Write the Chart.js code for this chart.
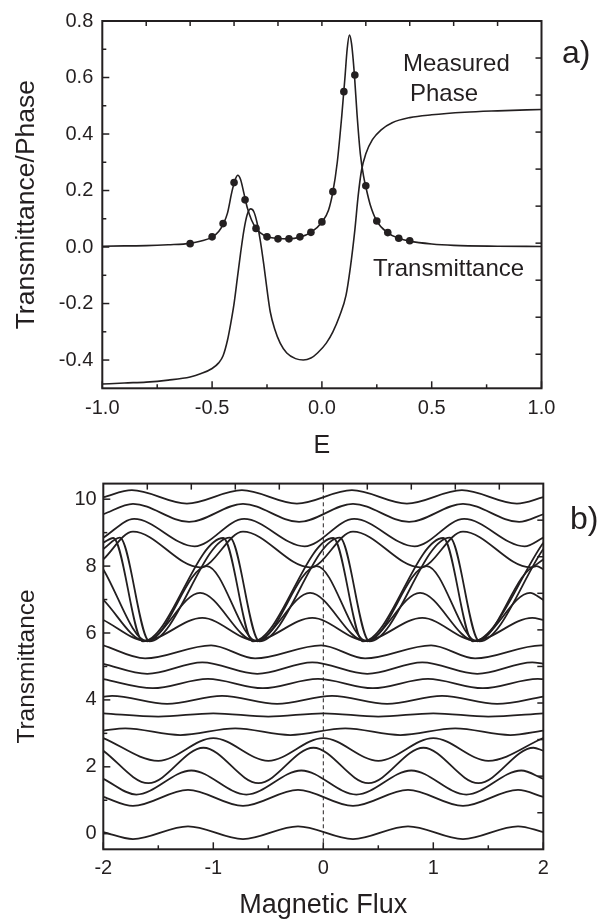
<!DOCTYPE html>
<html><head><meta charset="utf-8">
<script src="https://cdn.jsdelivr.net/npm/chart.js@4/dist/chart.umd.min.js"></script>
<style>
html,body{margin:0;padding:0;background:#fff;width:602px;height:924px;overflow:hidden;position:relative;}
canvas{position:absolute;left:0;}
#c1{top:0;}
#c2{top:465px;}
.lbl{position:absolute;font-family:"Liberation Sans",Arial,sans-serif;color:#231f20;white-space:nowrap;line-height:1;}
</style></head>
<body>
<canvas id="c1" width="602" height="465"></canvas>
<canvas id="c2" width="602" height="459"></canvas>
<div class="lbl" style="left:403px;top:51px;font-size:24px;">Measured</div>
<div class="lbl" style="left:410px;top:81px;font-size:24px;">Phase</div>
<div class="lbl" style="left:373px;top:256px;font-size:24px;">Transmittance</div>
<div class="lbl" style="left:562px;top:36px;font-size:32px;">a)</div>
<div class="lbl" style="left:570px;top:502px;font-size:32px;">b)</div>
<script>
// ---------- Panel a) data ----------
const transE = [-1.0,-0.9,-0.8,-0.7,-0.6,-0.55,-0.5,-0.47,-0.45,-0.43,-0.41,-0.395,-0.383,-0.37,-0.355,-0.34,-0.32,-0.30,-0.28,-0.25,-0.2,-0.15,-0.1,-0.05,0.0,0.03,0.05,0.07,0.09,0.105,0.115,0.125,0.135,0.148,0.16,0.175,0.19,0.2,0.22,0.25,0.3,0.35,0.4,0.5,0.6,0.8,1.0];
const transT = [0.003,0.004,0.005,0.008,0.013,0.021,0.035,0.055,0.08,0.12,0.195,0.238,0.254,0.238,0.19,0.14,0.095,0.067,0.05,0.037,0.03,0.029,0.035,0.052,0.088,0.13,0.195,0.3,0.46,0.6,0.7,0.75,0.72,0.61,0.47,0.33,0.25,0.213,0.15,0.092,0.05,0.031,0.021,0.011,0.006,0.003,0.002];
const phaseE = [-1.0,-0.9,-0.8,-0.7,-0.6,-0.55,-0.5,-0.47,-0.45,-0.43,-0.415,-0.40,-0.385,-0.37,-0.355,-0.34,-0.325,-0.31,-0.295,-0.28,-0.265,-0.25,-0.235,-0.215,-0.19,-0.16,-0.12,-0.085,-0.05,-0.02,0.02,0.05,0.08,0.11,0.13,0.15,0.165,0.18,0.2,0.23,0.27,0.32,0.4,0.5,0.65,0.8,1.0];
const phaseV = [-0.485,-0.481,-0.478,-0.471,-0.46,-0.448,-0.43,-0.41,-0.385,-0.33,-0.27,-0.2,-0.11,-0.02,0.06,0.115,0.135,0.125,0.085,0.02,-0.06,-0.15,-0.23,-0.29,-0.34,-0.375,-0.395,-0.4,-0.393,-0.375,-0.34,-0.3,-0.245,-0.17,-0.07,0.06,0.18,0.27,0.33,0.38,0.415,0.44,0.458,0.468,0.477,0.482,0.487];
const dotsE = [-0.6,-0.5,-0.45,-0.4,-0.35,-0.3,-0.25,-0.2,-0.15,-0.1,-0.05,0,0.05,0.1,0.15,0.2,0.25,0.3,0.35,0.4];
const dotsT = [0.012,0.036,0.083,0.228,0.167,0.066,0.036,0.029,0.029,0.036,0.052,0.089,0.196,0.55,0.609,0.217,0.092,0.051,0.031,0.022];
const aXLabels = [-1,-0.5,0,0.5,1];
const aXMinor = [-0.75,-0.25,0.25,0.75];
const aXTop = [-0.8,-0.6,-0.4,-0.2,0,0.2,0.4,0.6,0.8];
const aYLabels = [-0.4,-0.2,0,0.2,0.4,0.6,0.8];
const aYMinor = [-0.3,-0.1,0.1,0.3,0.5,0.7];
const aYRight = [1,2,3,4,5,6,7,8,9];

// ---------- Panel b) data (Magnetic Flux, Transmittance) ----------
const curve01 = [[-2,0.05],[-1.73,-0.16],[-1.23,0.22],[-0.73,-0.16],[-0.23,0.22],[0.27,-0.16],[0.77,0.22],[1.27,-0.16],[1.77,0.22],[2,0.05]];
const curve02 = [[-2,1.10],[-1.73,0.83],[-1.23,1.31],[-0.73,0.83],[-0.23,1.31],[0.27,0.83],[0.77,1.31],[1.27,0.83],[1.77,1.31],[2,1.10]];
const curve03 = [[-2,1.64],[-1.7,1.17],[-1.2,1.89],[-0.7,1.17],[-0.2,1.89],[0.3,1.17],[0.8,1.89],[1.3,1.17],[1.8,1.89],[2,1.64]];
const curve04 = [[-2,2.48],[-1.59,1.51],[-1.09,2.57],[-0.59,1.51],[-0.09,2.57],[0.41,1.51],[0.91,2.57],[1.41,1.51],[1.91,2.57],[2,2.48]];
const curve05 = [[-2,2.86],[-1.5,2.18],[-1,2.86],[-0.5,2.18],[0,2.86],[0.5,2.18],[1,2.86],[1.5,2.18],[2,2.86]];
const curve06 = [[-2,3.08],[-1.8,3.15],[-1.3,2.95],[-0.8,3.15],[-0.3,2.95],[0.2,3.15],[0.7,2.95],[1.2,3.15],[1.7,2.95],[2,3.08]];
const curve07 = [[-2,3.6],[-1.5,3.5],[-1,3.6],[-0.5,3.5],[0,3.6],[0.5,3.5],[1,3.6],[1.5,3.5],[2,3.6]];
const curve08 = [[-2,4.10],[-1.92,4.12],[-1.42,3.88],[-0.92,4.12],[-0.42,3.88],[0.08,4.12],[0.58,3.88],[1.08,4.12],[1.58,3.88],[2,4.10]];
const curve09 = [[-2,4.62],[-1.55,4.35],[-1.05,4.63],[-0.55,4.35],[-0.05,4.63],[0.45,4.35],[0.95,4.63],[1.45,4.35],[1.95,4.63],[2,4.62]];
const curve10 = [[-2,5.08],[-1.6,4.78],[-1.1,5.12],[-0.6,4.78],[-0.1,5.12],[0.4,4.78],[0.9,5.12],[1.4,4.78],[1.9,5.12],[2,5.08]];
const curve11 = [[-2,5.63],[-1.62,5.24],[-1.02,5.63],[-0.62,5.24],[-0.02,5.63],[0.38,5.24],[0.98,5.63],[1.38,5.24],[1.98,5.63],[2,5.63]];
const curve12 = [[-2,6.39],[-1.62,5.78],[-1.1,6.45],[-0.62,5.78],[-0.1,6.45],[0.38,5.78],[0.9,6.45],[1.38,5.78],[1.9,6.45],[2,6.39]];
const curve13 = [[-2,6.99],[-1.62,5.76],[-1.12,7.2],[-0.62,5.76],[-0.12,7.2],[0.38,5.76],[0.88,7.2],[1.38,5.76],[1.88,7.2],[2,6.99]];
const curve14 = [[-2,7.9],[-1.6,5.75],[-1.06,8.0],[-0.6,5.75],[-0.06,8.0],[0.4,5.75],[0.94,8.0],[1.4,5.75],[1.94,8.0],[2,7.9]];
const curve15 = [[-2,8.70],[-1.91,8.84],[-1.64,5.75],[-0.91,8.84],[-0.64,5.75],[0.09,8.84],[0.36,5.75],[1.09,8.84],[1.36,5.75],[2,8.70]];
const curve16 = [[-2,8.51],[-1.85,8.85],[-1.58,5.75],[-0.85,8.85],[-0.58,5.75],[0.15,8.85],[0.42,5.75],[1.15,8.85],[1.42,5.75],[2,8.51]];
const curve17 = [[-2,8.2],[-1.73,9.03],[-1.12,7.96],[-0.73,9.03],[-0.12,7.96],[0.27,9.03],[0.88,7.96],[1.27,9.03],[1.88,7.96],[2,8.2]];
const curve18 = [[-2,8.85],[-1.72,9.41],[-1.17,8.59],[-0.72,9.41],[-0.17,8.59],[0.28,9.41],[0.83,8.59],[1.28,9.41],[1.83,8.59],[2,8.85]];
const curve19 = [[-2,9.55],[-1.73,9.86],[-1.22,9.32],[-0.73,9.86],[-0.22,9.32],[0.27,9.86],[0.78,9.32],[1.27,9.86],[1.78,9.32],[2,9.55]];
const curve20 = [[-2,10.06],[-1.74,10.27],[-1.24,9.87],[-0.74,10.27],[-0.24,9.87],[0.26,10.27],[0.76,9.87],[1.26,10.27],[1.76,9.87],[2,10.06]];
const fluxZeroLine = [[0,-0.466],[0,10.466]];
const bXLabels = [-2,-1,0,1,2];
const bXMinor = [-1.5,-0.5,0.5,1.5];
const bXTop = [-1.6,-1.2,-0.8,-0.4,0,0.4,0.8,1.2,1.6];
const bYLabels = [0,2,4,6,8,10];
const bYMinor = [1,3,5,7,9];
const bYRight = [1,2,3,4,5,6,7,8,9];

// ---------- rendering ----------
const INK = '#231f20';
const FONT = '"Liberation Sans", Arial, sans-serif';

function frameTicks(cfg){
  return {id:'frameTicks', afterDatasetsDraw(chart){
    const {ctx, chartArea:a} = chart;
    const xs = chart.scales.x, ys = chart.scales.y, yr = chart.scales.yr;
    ctx.save();
    ctx.strokeStyle = INK; ctx.lineWidth = 1.5;
    const seg=(x1,y1,x2,y2)=>{ctx.beginPath();ctx.moveTo(x1,y1);ctx.lineTo(x2,y2);ctx.stroke();};
    cfg.bottom.forEach(([vals,len])=>vals.forEach(v=>{const x=xs.getPixelForValue(v);seg(x,a.bottom,x,a.bottom-len);}));
    cfg.top.forEach(([vals,len])=>vals.forEach(v=>{const x=xs.getPixelForValue(v);seg(x,a.top,x,a.top+len);}));
    cfg.left.forEach(([vals,len])=>vals.forEach(v=>{const y=ys.getPixelForValue(v);seg(a.left,y,a.left+len,y);}));
    cfg.right.forEach(([vals,len])=>vals.forEach(v=>{const y=yr.getPixelForValue(v);seg(a.right,y,a.right-len,y);}));
    ctx.lineWidth = 2;
    ctx.strokeRect(a.left,a.top,a.right-a.left,a.bottom-a.top);
    ctx.restore();
  }};
}

function scales(o){
  return {
    x:{type:'linear',min:o.xmin,max:o.xmax,
      afterBuildTicks:s=>{s.ticks=o.xLabels.map(v=>({value:v}));},
      afterFit:s=>{s.height=o.xh;},
      grid:{display:false,drawTicks:false},border:{display:false},
      ticks:{color:INK,font:{family:FONT,size:20},padding:o.xpad,autoSkip:false,maxRotation:0,callback:o.xfmt},
      title:{display:true,text:o.xtitle,color:INK,font:{family:FONT,size:o.xtsize},padding:{top:0,bottom:o.xtpad}}},
    y:{type:'linear',min:o.ymin,max:o.ymax,
      afterBuildTicks:s=>{s.ticks=o.yLabels.map(v=>({value:v}));},
      afterFit:s=>{s.width=o.yw;},
      grid:{display:false,drawTicks:false},border:{display:false},
      ticks:{color:INK,font:{family:FONT,size:20},padding:o.ypad,autoSkip:false,callback:o.yfmt},
      title:{display:true,text:o.ytitle,color:INK,font:{family:FONT,size:o.ytsize},padding:{top:o.ytpad,bottom:0}}},
    yr:{type:'linear',display:false,min:0,max:o.yrmax,reverse:true}
  };
}

const lineDs = (pts, extra) => Object.assign({data:pts, borderColor:INK, borderWidth:1.6, pointRadius:0, fill:false, cubicInterpolationMode:'monotone'}, extra||{});
const common = {responsive:false, animation:false, devicePixelRatio:1, events:[],
  plugins:{legend:{display:false}, tooltip:{enabled:false}}};

// Panel a
new Chart(document.getElementById('c1'), {
  type:'line',
  data:{datasets:[
    lineDs(dotsE.map((e,i)=>({x:e,y:dotsT[i]})), {showLine:false, pointRadius:3.8, pointBackgroundColor:INK, pointBorderColor:INK, pointBorderWidth:0}),
    lineDs(transE.map((e,i)=>({x:e,y:transT[i]}))),
    lineDs(phaseE.map((e,i)=>({x:e,y:phaseV[i]})))
  ]},
  options:Object.assign({}, common, {
    layout:{padding:{left:0,top:16.3,right:60.5,bottom:0}},
    scales:scales({xmin:-1,xmax:1,xLabels:aXLabels,xh:76.7,xpad:8.5,xfmt:v=>Number(v).toFixed(1),xtitle:'E',xtsize:25,xtpad:4,
      ymin:-0.5,ymax:0.8,yLabels:aYLabels,yw:102.3,ypad:9,yfmt:v=>Number(v).toFixed(1),ytitle:'Transmittance/Phase',ytsize:26.5,ytpad:11,yrmax:9.92})
  }),
  plugins:[frameTicks({bottom:[[aXLabels,7],[aXMinor,4]], top:[[aXTop,5]], left:[[aYLabels,7],[aYMinor,4]], right:[[aYRight,6]]})]
});

// Panel b
const curves = [curve01,curve02,curve03,curve04,curve05,curve06,curve07,curve08,curve09,curve10,curve11,curve12,curve13,curve14,curve15,curve16,curve17,curve18,curve19,curve20];
const bDatasets = curves.map(c=>lineDs(c.map(([x,y])=>({x,y})), {borderWidth:1.8}));
bDatasets.push(lineDs(fluxZeroLine.map(([x,y])=>({x,y})), {borderWidth:1, borderDash:[4,3], cubicInterpolationMode:'default', tension:0}));
new Chart(document.getElementById('c2'), {
  type:'line',
  data:{datasets:bDatasets},
  options:Object.assign({}, common, {
    layout:{padding:{left:0,top:9,right:58.7,bottom:0}},
    scales:scales({xmin:-2,xmax:2,xLabels:bXLabels,xh:74.7,xpad:7,xfmt:v=>String(v),xtitle:'Magnetic Flux',xtsize:27,xtpad:2,
      ymin:-0.466,ymax:10.466,yLabels:bYLabels,yw:103.3,ypad:6.6,yfmt:v=>String(v),ytitle:'Transmittance',ytsize:24.5,ytpad:12.5,yrmax:10})
  }),
  plugins:[frameTicks({bottom:[[bXLabels,7],[bXMinor,4]], top:[[bXTop,6]], left:[[bYLabels,7],[bYMinor,4]], right:[[bYRight,6]]})]
});
</script>
</body></html>
